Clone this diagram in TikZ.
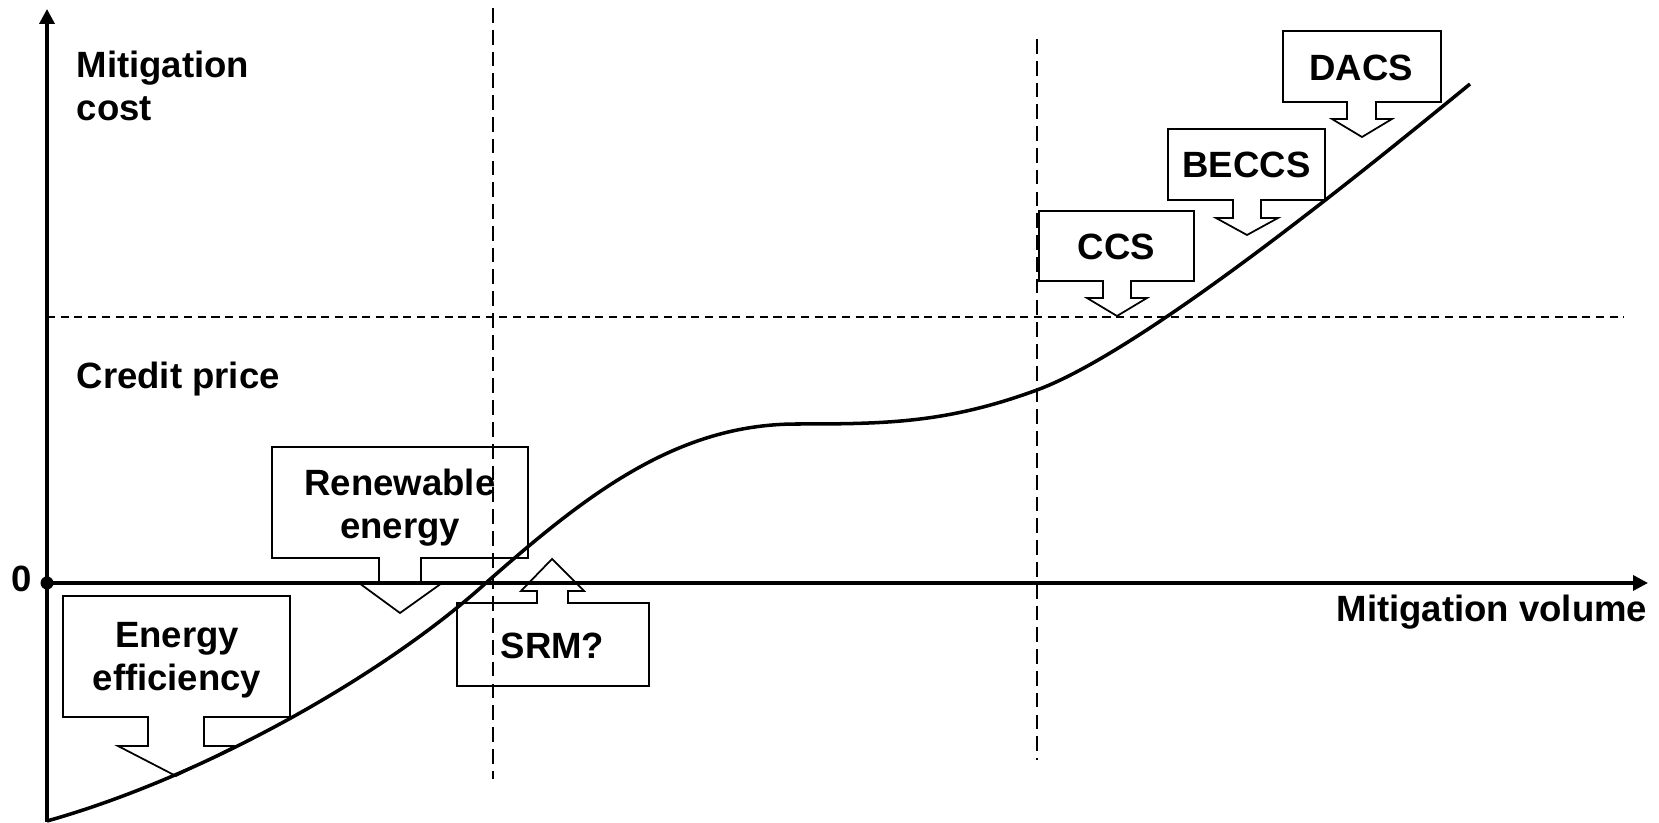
\documentclass[tikz,border=0pt]{standalone}
\usepackage{fontspec}
\setmainfont{Liberation Sans}
\usetikzlibrary{arrows.meta}

\begin{document}
\begin{tikzpicture}[
  txt/.style={font=\fontsize{10.4}{12.3}\selectfont\bfseries, inner sep=0pt, align=center},
  callout/.style={line width=0.5pt, line join=miter},
  guide/.style={line width=0.5pt, dash pattern=on 4.2pt off 2pt},
  axis/.style={line width=1pt, -{Triangle[length=0.15cm, width=0.15cm]}}]
  \useasboundingbox (-0.47,-2.40) rectangle (16.12,5.83);
  % dashed guides
  \draw[guide] (4.46,5.75) -- (4.46,-1.96);
  \draw[guide] (9.90,5.44) -- (9.90,-1.77);
  \draw[guide, dash pattern=on 2.3pt off 1.6pt] (0,2.66) -- (15.77,2.66);
  % axes
  \coordinate (o) at (0,0);
  \draw[axis] (0,-2.39) -- (0,5.74);
  \draw[axis] (o) -- (16.01,0);
  \fill (o) circle (0.065);
  \node[txt, anchor=base] (zero) at (-0.255,-0.09) {0};
  \node[txt, anchor=north west, align=left] (cost) at (0.29,5.33) {Mitigation\\cost};
  \node[txt, anchor=base west] (price) at (0.29,1.94) {Credit price};
  \node[txt, anchor=base east] (volume) at (16.01,-0.39) {Mitigation volume};
  % cost curve
  \draw[line width=1pt] (0,-2.38) .. controls (1.6,-1.93) and (3.4,-0.90) .. (4.40,0.01)
    .. controls (5.4,0.89) and (6.3,1.59) .. (7.5,1.59)
    .. controls (8.4,1.59) and (9.0,1.60) .. (9.90,1.93)
    .. controls (10.9,2.30) and (12.9,3.90) .. (14.23,4.99);
  % callouts
  \draw[callout] (0.16,-0.13) -- (2.43,-0.13) -- (2.43,-1.34) -- (1.57,-1.34) -- (1.57,-1.63)
    -- (1.88,-1.63) -- (1.29,-1.93) -- (0.71,-1.63) -- (1.01,-1.63) -- (1.01,-1.34) -- (0.16,-1.34) -- cycle;
  \node[txt] (eff) at (1.30,-0.775) {Energy\\efficiency};
  \draw[callout] (2.25,1.36) -- (4.81,1.36) -- (4.81,0.25) -- (3.74,0.25) -- (3.74,0)
    -- (3.95,0) -- (3.53,-0.30) -- (3.12,0) -- (3.32,0) -- (3.32,0.25) -- (2.25,0.25) -- cycle;
  \node[txt] (ren) at (3.53,0.755) {Renewable\\energy};
  \draw[callout] (4.10,-0.20) -- (4.90,-0.20) -- (4.90,-0.08) -- (4.74,-0.08) -- (5.05,0.24)
    -- (5.37,-0.08) -- (5.21,-0.08) -- (5.21,-0.20) -- (6.02,-0.20) -- (6.02,-1.03) -- (4.10,-1.03) -- cycle;
  \node[txt] (srm) at (5.055,-0.625) {SRM?};
  \draw[callout] (9.92,3.72) -- (11.47,3.72) -- (11.47,3.02) -- (10.84,3.02) -- (10.84,2.85)
    -- (11.00,2.85) -- (10.70,2.67) -- (10.40,2.85) -- (10.56,2.85) -- (10.56,3.02) -- (9.92,3.02) -- cycle;
  \node[txt] (ccs) at (10.695,3.365) {CCS};
  \draw[callout] (11.21,4.54) -- (12.78,4.54) -- (12.78,3.83) -- (12.14,3.83) -- (12.14,3.65)
    -- (12.31,3.65) -- (12.00,3.48) -- (11.69,3.65) -- (11.86,3.65) -- (11.86,3.83) -- (11.21,3.83) -- cycle;
  \node[txt] (beccs) at (11.995,4.18) {BECCS};
  \draw[callout] (12.36,5.52) -- (13.94,5.52) -- (13.94,4.81) -- (13.29,4.81) -- (13.29,4.64)
    -- (13.45,4.64) -- (13.15,4.46) -- (12.85,4.64) -- (13.00,4.64) -- (13.00,4.81) -- (12.36,4.81) -- cycle;
  \node[txt] (dacs) at (13.14,5.15) {DACS};
\end{tikzpicture}
\end{document}
